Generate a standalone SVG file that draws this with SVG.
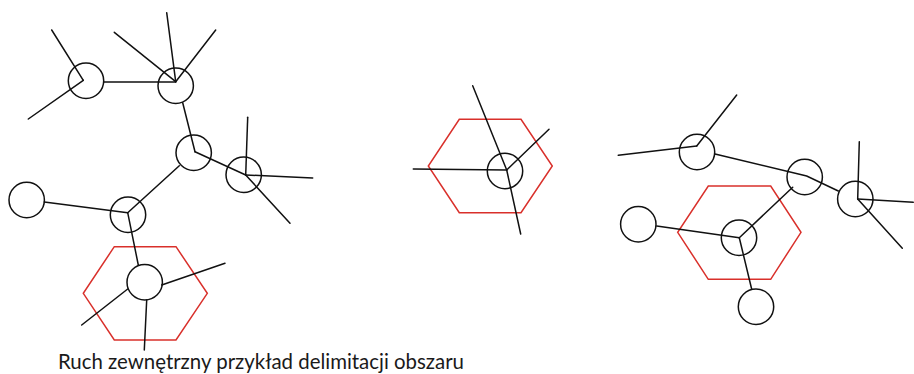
<svg xmlns="http://www.w3.org/2000/svg" width="914" height="374" viewBox="0 0 914 374">
<style>
.n{fill:none;stroke:#111;stroke-width:1.5}
.e{fill:none;stroke:#111;stroke-width:1.5;stroke-linecap:round}
.hex{fill:none;stroke:#d9302b;stroke-width:1.5}
.t{font-family:Lato,"Open Sans",sans-serif;font-size:21px;fill:#1a1a1a}
</style>
<rect width="914" height="374" fill="#fff"/>
<g id="regions">
<polygon id="hex1" class="hex" points="114.3,246.7 176,246.7 207.3,293.3 176,340 114.3,340 83.3,293.3"/>
<polygon id="hex2" class="hex" points="459.3,119.3 521,119.3 552.3,166 521,212.7 459.3,212.7 428.3,166"/>
<polygon id="hex3" class="hex" points="708.3,186 770.7,186 801,232.3 770.7,279.3 708.3,279.3 677.7,232.3"/>
</g>
<g id="connectors">
<line class="e" x1="83.3" y1="80.3" x2="51.7" y2="30"/>
<line class="e" x1="83.3" y1="80.3" x2="28.3" y2="119"/>
<line class="e" x1="104" y1="82" x2="175.7" y2="82"/>
<line class="e" x1="175.7" y1="81.7" x2="114.3" y2="32.3"/>
<line class="e" x1="175.7" y1="81.7" x2="166.7" y2="12.7"/>
<line class="e" x1="175.7" y1="81.7" x2="215.7" y2="30"/>
<line class="e" x1="182.7" y1="102.7" x2="195" y2="151.7"/>
<line class="e" x1="195" y1="151.7" x2="245.7" y2="175"/>
<line class="e" x1="245.7" y1="175" x2="247.7" y2="117.3"/>
<line class="e" x1="245.7" y1="175" x2="312.7" y2="178"/>
<line class="e" x1="245.7" y1="175" x2="290" y2="223.3"/>
<line class="e" x1="179.3" y1="165.7" x2="127.7" y2="212.7"/>
<line class="e" x1="44.3" y1="202" x2="127.7" y2="212.7"/>
<line class="e" x1="127.7" y1="212.7" x2="138.3" y2="265"/>
<line class="e" x1="161.7" y1="285" x2="225" y2="263.3"/>
<line class="e" x1="127.7" y1="289" x2="81.7" y2="325"/>
<line class="e" x1="146.7" y1="300" x2="144.3" y2="350"/>
<line class="e" x1="506.7" y1="170" x2="413.3" y2="169"/>
<line class="e" x1="506.7" y1="170" x2="472.7" y2="85.7"/>
<line class="e" x1="506.7" y1="170" x2="520.7" y2="234"/>
<line class="e" x1="506.7" y1="170" x2="549" y2="129.3"/>
<line class="e" x1="696.7" y1="146" x2="618.3" y2="155.3"/>
<line class="e" x1="696.7" y1="146" x2="736.7" y2="95"/>
<polyline class="e" points="715,154 806.7,176 838.3,191"/>
<line class="e" x1="857.7" y1="199" x2="859.3" y2="141.7"/>
<line class="e" x1="857.7" y1="199" x2="913.3" y2="202.3"/>
<line class="e" x1="857.7" y1="199" x2="902.3" y2="248.3"/>
<line class="e" x1="792.7" y1="187.3" x2="739.3" y2="237.7"/>
<line class="e" x1="656.7" y1="226" x2="739.3" y2="237.7"/>
<line class="e" x1="739.3" y1="237.7" x2="751.7" y2="289.3"/>
</g>
<g id="nodeA"><circle class="n" cx="86" cy="80.7" r="17.7"/></g>
<g id="nodeB"><circle class="n" cx="175.7" cy="85.7" r="17.7"/></g>
<g id="nodeC"><circle class="n" cx="193.7" cy="152.7" r="17.7"/></g>
<g id="nodeD"><circle class="n" cx="243.7" cy="174.7" r="17.7"/></g>
<g id="nodeE"><circle class="n" cx="128" cy="214.7" r="17.7"/></g>
<g id="nodeF"><circle class="n" cx="26.7" cy="200" r="17.7"/></g>
<g id="nodeG"><circle class="n" cx="144.7" cy="282.3" r="17.7"/></g>
<g id="nodeH2"><circle class="n" cx="505" cy="171" r="17.7"/></g>
<g id="nodeH"><circle class="n" cx="697" cy="152" r="17.7"/></g>
<g id="nodeI"><circle class="n" cx="804.7" cy="177" r="17.7"/></g>
<g id="nodeJ"><circle class="n" cx="855.3" cy="199" r="17.7"/></g>
<g id="nodeK"><circle class="n" cx="739" cy="237.7" r="17.7"/></g>
<g id="nodeL"><circle class="n" cx="638.3" cy="224.3" r="17.7"/></g>
<g id="nodeM"><circle class="n" cx="756" cy="306.7" r="17.7"/></g>
<g id="caption"><text class="t" x="58" y="369" textLength="406" lengthAdjust="spacingAndGlyphs">Ruch zewnętrzny przykład delimitacji obszaru</text></g>
</svg>
